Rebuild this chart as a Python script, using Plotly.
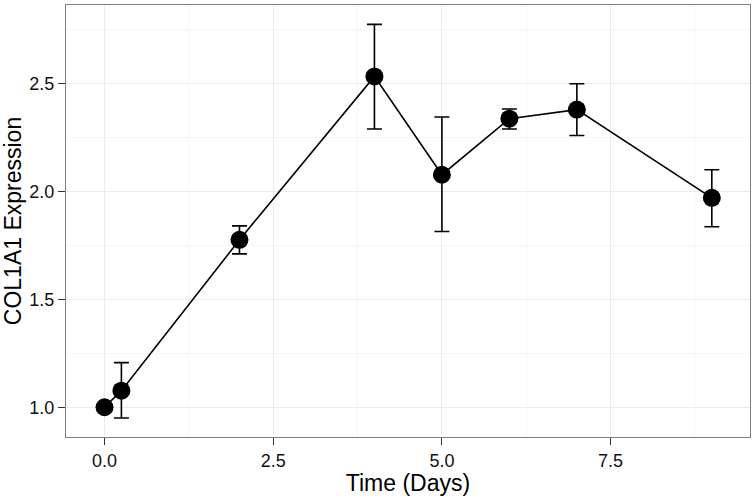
import plotly.graph_objects as go

days = [0, 0.25, 2, 4, 5, 6, 7, 9]
expression = [1.0, 1.077, 1.776, 2.534, 2.078, 2.338, 2.38, 1.971]
err_upper = [0.0, 0.130, 0.065, 0.241, 0.268, 0.045, 0.120, 0.130]
err_lower = [0.0, 0.127, 0.065, 0.244, 0.263, 0.048, 0.120, 0.134]

x_ticks = [0, 2.5, 5, 7.5]
x_tick_labels = ["0.0", "2.5", "5.0", "7.5"]
y_ticks = [1.0, 1.5, 2.0, 2.5]
y_tick_labels = ["1.0", "1.5", "2.0", "2.5"]

fig = go.Figure()
fig.add_trace(go.Scatter(
    x=days, y=expression, mode="lines+markers",
    line=dict(color="black", width=1.6),
    marker=dict(color="black", size=18),
    error_y=dict(type="data", symmetric=False, array=err_upper, arrayminus=err_lower,
                 color="black", thickness=1.6, width=7.5),
    showlegend=False,
))

font = "Liberation Sans, Arial, Helvetica, sans-serif"
fig.update_layout(
    width=756, height=496,
    margin=dict(l=66, r=6, t=5, b=59, autoexpand=False),
    paper_bgcolor="white", plot_bgcolor="white",
    font=dict(family=font, color="black"),
    xaxis=dict(
        range=[-0.571, 9.566],
        tickmode="array", tickvals=x_ticks, ticktext=x_tick_labels,
        ticks="outside", ticklen=7, tickwidth=1.3, tickcolor="#333",
        tickfont=dict(size=18, color="#111"),
        showgrid=True, gridcolor="#ebebeb", gridwidth=1.2,
        minor=dict(dtick=1.25, tick0=0, showgrid=True, gridcolor="#f5f5f5", gridwidth=1, ticks=""),
        showline=True, linecolor="#7f7f7f", linewidth=1.2, mirror=True,
        zeroline=False, automargin=False,
        title=dict(text="Time (Days)", font=dict(size=23), standoff=0),
    ),
    yaxis=dict(
        range=[0.862, 2.865],
        tickmode="array", tickvals=y_ticks, ticktext=y_tick_labels,
        ticks="outside", ticklen=7, tickwidth=1.3, tickcolor="#333",
        tickfont=dict(size=18, color="#111"),
        showgrid=True, gridcolor="#ebebeb", gridwidth=1.2,
        minor=dict(dtick=0.25, tick0=0, showgrid=True, gridcolor="#f5f5f5", gridwidth=1, ticks=""),
        showline=True, linecolor="#7f7f7f", linewidth=1.2, mirror=True,
        zeroline=False, automargin=False,
        title=dict(text="COL1A1 Expression", font=dict(size=23), standoff=1),
    ),
)

fig.write_html("out.html", config={"displayModeBar": False},
               post_script="document.body.style.margin='0px';")
